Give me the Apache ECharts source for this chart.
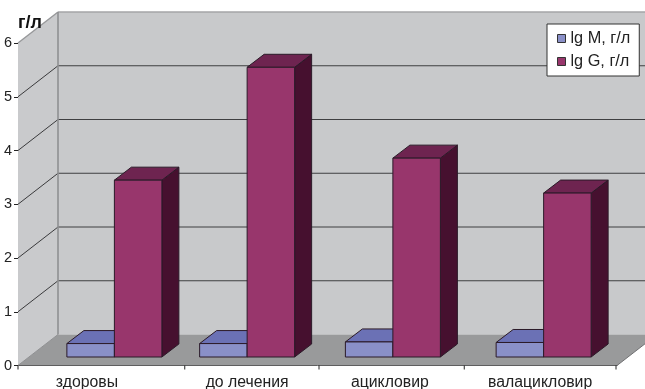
<!DOCTYPE html>
<html>
<head>
<meta charset="utf-8">
<style>html,body{margin:0;padding:0;background:#fff}#c{width:645px;height:389px}</style>
<script src="https://cdn.jsdelivr.net/npm/echarts@6/dist/echarts.min.js"></script>
</head>
<body>
<div id="c"></div>
<script>
// Immunoglobulin levels by patient group
const categories = ['здоровы', 'до лечения', 'ацикловир', 'валацикловир'];
const igM = [0.25, 0.25, 0.28, 0.27];
const igG = [3.29, 5.39, 3.70, 3.05];
const yTicks = [0, 1, 2, 3, 4, 5, 6];

// Pseudo-3D layout, in pixels
const wall = { dx: 40, dy: 31 };
const bar = { width: 47.5, dx: 17, dy: 13, lift: 8.5 };
const groupNudge = [21.5, 4.5, 0.5, 1.5];
const tickNudge = [0, 17, 1.5, -3, -1];
const labelNudge = [-6, 4.5, -2.5, -2];

const chart = echarts.init(document.getElementById('c'));
const FONT = '"Liberation Sans", Arial, sans-serif';

// Walls, floor, grid lines, x ticks and category labels
function renderFrame(params, api) {
  const g = params.coordSys;
  const x0 = g.x, x1 = g.x + g.width, yT = g.y, yB = g.y + g.height;
  const kids = [];
  const poly = (points, fill, z) => kids.push({ type: 'polygon', shape: { points }, style: { fill }, z2: z || 0 });
  const line = (x1_, y1_, x2_, y2_, stroke, lineWidth) => kids.push({
    type: 'line', shape: { x1: x1_, y1: y1_, x2: x2_, y2: y2_ }, style: { stroke, lineWidth }
  });
  poly([[x0 + wall.dx, yT - wall.dy], [x1 + wall.dx, yT - wall.dy], [x1 + wall.dx, yB - wall.dy], [x0 + wall.dx, yB - wall.dy]], '#c8c9cb');
  poly([[x0, yT], [x0 + wall.dx, yT - wall.dy], [x0 + wall.dx, yB - wall.dy], [x0, yB]], '#c9cacc');
  poly([[x0, yB], [x0 + wall.dx, yB - wall.dy], [x1 + wall.dx, yB - wall.dy], [x1, yB]], '#999a9b');
  yTicks.forEach(v => {
    if (v === 0 || v === 6) return;
    const y = api.coord([0, v])[1];
    line(x0, y, x0 + wall.dx, y - wall.dy, '#3a3a3c', 1);
    line(x0 + wall.dx, y - wall.dy, x1 + wall.dx, y - wall.dy, '#3f3f41', 1);
  });
  line(x0, yT, x0 + wall.dx, yT - wall.dy, '#97989a', 1.4);
  line(x0 + wall.dx, yT - wall.dy, x1 + wall.dx, yT - wall.dy, '#a4a5a7', 1.4);
  line(x0 + wall.dx, yT - wall.dy, x0 + wall.dx, yB - wall.dy, '#8f9092', 1.6);
  line(x0, yB, x0 + wall.dx, yB - wall.dy, '#8f9092', 1);
  line(x1, yB, x1 + wall.dx, yB - wall.dy, '#707072', 1);
  const band = api.size([1, 0])[0];
  tickNudge.forEach((n, i) => {
    const x = api.coord([0, 0])[0] - band / 2 + band * i + n;
    line(x, yB, x, yB + 4, '#222', 1);
  });
  categories.forEach((name, i) => {
    kids.push({
      type: 'text',
      style: {
        text: name, x: api.coord([i, 0])[0] + labelNudge[i], y: yB + 17,
        align: 'center', verticalAlign: 'middle', fill: '#222', font: '15.8px ' + FONT
      }
    });
  });
  return { type: 'group', children: kids };
}

// One box of a bar; side = -1 for the left box of a pair, 0 for the right one
function boxRenderer(side, colors) {
  return function (params, api) {
    const i = api.value(0);
    const top = api.coord([i, api.value(1)]);
    const base = api.coord([i, 0]);
    const xL = top[0] + groupNudge[i] + side * bar.width;
    const xR = xL + bar.width;
    const yT = top[1] - bar.lift;
    const yB = base[1] - bar.lift;
    const edge = { stroke: '#2b1a28', lineWidth: 1, lineJoin: 'round' };
    const face = (points, fill) => ({ type: 'polygon', shape: { points }, style: Object.assign({ fill }, edge) });
    return {
      type: 'group',
      children: [
        face([[xR, yT], [xR + bar.dx, yT - bar.dy], [xR + bar.dx, yB - bar.dy], [xR, yB]], colors.side),
        face([[xL, yT], [xL + bar.dx, yT - bar.dy], [xR + bar.dx, yT - bar.dy], [xR, yT]], colors.top),
        face([[xL, yT], [xR, yT], [xR, yB], [xL, yB]], colors.front)
      ]
    };
  };
}

const blue = { front: '#8a90c8', top: '#6b71b5', side: '#4b4f85' };
const red = { front: '#98366c', top: '#6e2450', side: '#46102f' };

chart.setOption({
  animation: false,
  backgroundColor: '#fff',
  title: {
    text: 'г/л', left: 13, top: 9,
    textStyle: { fontFamily: FONT, fontSize: 18, fontWeight: 'bold', color: '#111' }
  },
  grid: { left: 18, right: 28, top: 43, bottom: 23.5 },
  legend: {
    orient: 'vertical', left: 547, top: 24,
    padding: [6.5, 9, 6.5, 10], itemGap: 7, itemWidth: 8, itemHeight: 8,
    backgroundColor: '#fff', borderColor: '#333', borderWidth: 1,
    icon: 'rect',
    itemStyle: { borderColor: '#333', borderWidth: 1 },
    textStyle: { fontFamily: FONT, fontSize: 16.3, color: '#222', padding: [0, 0, 0, 0] },
    data: ['lg M, г/л', 'lg G, г/л']
  },
  xAxis: {
    type: 'category', data: categories,
    axisLine: { show: true, lineStyle: { color: '#222', width: 1 } },
    axisTick: { show: false }, axisLabel: { show: false }, splitLine: { show: false }
  },
  yAxis: {
    type: 'value', min: 0, max: 6, interval: 1,
    axisLine: { show: true, lineStyle: { color: '#222', width: 1 } },
    axisTick: { show: true, length: 4, lineStyle: { color: '#222' } },
    axisLabel: { margin: 6, fontFamily: FONT, fontSize: 14.5, color: '#222' },
    splitLine: { show: false }
  },
  series: [
    { type: 'custom', name: 'frame', silent: true, z: 1, renderItem: renderFrame, data: [[0, 0]] },
    {
      type: 'custom', name: 'lg M, г/л', z: 2, renderItem: boxRenderer(-1, blue),
      itemStyle: { color: blue.front }, data: igM.map((v, i) => [i, v])
    },
    {
      type: 'custom', name: 'lg G, г/л', z: 3, renderItem: boxRenderer(0, red),
      itemStyle: { color: red.front }, data: igG.map((v, i) => [i, v])
    }
  ]
});
</script>
</body>
</html>
